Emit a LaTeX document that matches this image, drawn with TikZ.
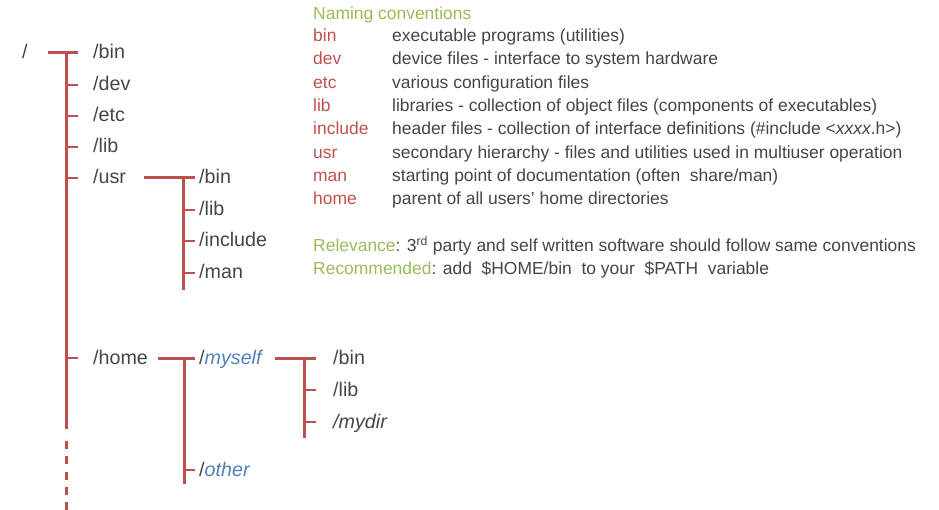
\documentclass[tikz,border=0pt]{standalone}
\usepackage{fontspec}
\setmainfont{Liberation Sans}
\definecolor{branchred}{HTML}{C0504D}
\definecolor{headgreen}{HTML}{9BBB59}
\definecolor{userblue}{HTML}{4F81BD}
\definecolor{textgray}{HTML}{454545}
\tikzset{
  dir/.style={anchor=west, inner sep=0pt, text height=15pt, text depth=3pt,
              font=\fontsize{19.7}{22}\selectfont, text=textgray},
  note/.style={anchor=base west, inner sep=0pt,
               font=\fontsize{17.45}{20}\selectfont, text=textgray},
  key/.style={note, text=branchred},
  head/.style={note, text=headgreen},
  bus/.style={draw=branchred, line width=3pt},
  tick/.style={draw=branchred, line width=2.8pt},
}
\begin{document}
\begin{tikzpicture}[x=1pt,y=-1pt]
\useasboundingbox (0,0) rectangle (939,510);

% ---------- directory tree ----------
\node[dir] (root) at (22,53) {/};
\node[dir] (bin)  at (93,53)  {/bin};
\node[dir] (dev)  at (93,85)  {/dev};
\node[dir] (etc)  at (93,116) {/etc};
\node[dir] (lib)  at (93,147) {/lib};
\node[dir] (usr)  at (93,178) {/usr};
\node[dir] (home) at (93,358) {/home};

\node[dir] (ubin) at (199,178) {/bin};
\node[dir] (ulib) at (199,210) {/lib};
\node[dir] (uinc) at (199,241) {/include};
\node[dir] (uman) at (199,273) {/man};

\node[dir] (myself) at (199,358) {/\textcolor{userblue}{\itshape myself}};
\node[dir] (other)  at (199,470) {/\textcolor{userblue}{\itshape other}};

\node[dir] (mbin)  at (333,358) {/bin};
\node[dir] (mlib)  at (333,390) {/lib};
\node[dir] (mydir) at (333,422) {\itshape /mydir};

% trunk of the root directory
\coordinate (trunktop) at (66,53);
\coordinate (trunkend) at (66,429);
\coordinate (dashtop)  at (66,441);
\coordinate (dashend)  at (66,510);
\draw[bus] (trunktop) -- (trunkend);
\draw[bus, dash pattern=on 8pt off 7.3pt] (dashtop) -- (dashend);
\draw[bus] ([xshift=20pt]root.east) -- ([xshift=-15pt]bin.west);
\foreach \n in {dev,etc,lib,usr,home}
  \draw[tick] (trunktop |- \n.west) -- ([xshift=-15pt]\n.west);

% /usr subtree
\coordinate (usrbus) at (183,178);
\draw[bus] ([xshift=18pt]usr.east) -- ([xshift=-4pt]ubin.west);
\draw[bus] (usrbus) -- (183,290);
\foreach \n in {ulib,uinc,uman}
  \draw[tick] (usrbus |- \n.west) -- ([xshift=-4pt]\n.west);

% /home subtree
\coordinate (homebus) at (184,358);
\draw[bus] ([xshift=10pt]home.east) -- ([xshift=-4pt]myself.west);
\draw[bus] (homebus) -- (184,484);
\draw[tick] (homebus |- other.west) -- ([xshift=-4pt]other.west);

% /home/myself subtree
\coordinate (mybus) at (304,358);
\draw[bus] ([xshift=13pt]myself.east) -- ([xshift=-17pt]mbin.west);
\draw[bus] (mybus) -- (304,438);
\foreach \n in {mlib,mydir}
  \draw[tick] (mybus |- \n.west) -- ([xshift=-17pt]\n.west);

% ---------- naming conventions ----------
\node[head] (title) at (313,19.5) {Naming conventions};
\node[key] (kbin) at (313,41.7)  {bin};
\node[key] (kdev) at (313,65)    {dev};
\node[key] (ketc) at (313,88.3)  {etc};
\node[key] (klib) at (313,111.6) {lib};
\node[key] (kinc) at (313,135)   {include};
\node[key] (kusr) at (313,158.3) {usr};
\node[key] (kman) at (313,181.6) {man};
\node[key] (khom) at (313,205)   {home};

\node[note] (dbin) at (392,41.7)  {executable programs (utilities)};
\node[note] (ddev) at (392,65)    {device files - interface to system hardware};
\node[note] (detc) at (392,88.3)  {various configuration files};
\node[note] (dlib) at (392,111.6) {libraries - collection of object files (components of executables)};
\node[note] (dinc) at (392,135)   {header files - collection of interface definitions (\#include <{\itshape xxxx}.h>)};
\node[note] (dusr) at (392,158.3) {secondary hierarchy - files and utilities used in multiuser operation};
\node[note] (dman) at (392,181.6) {starting point of documentation (often~ share/man)};
\node[note] (dhom) at (392,205)   {parent of all users’ home directories};

\node[note] (relev) at (313,251.7) {\textcolor{headgreen}{Relevance}: 3\textsuperscript{rd} party and self written software should follow same conventions};
\node[note] (recom) at (313,275)   {\textcolor{headgreen}{Recommended}: add~ \$HOME/bin~ to your~ \$PATH~ variable};
\end{tikzpicture}
\end{document}
